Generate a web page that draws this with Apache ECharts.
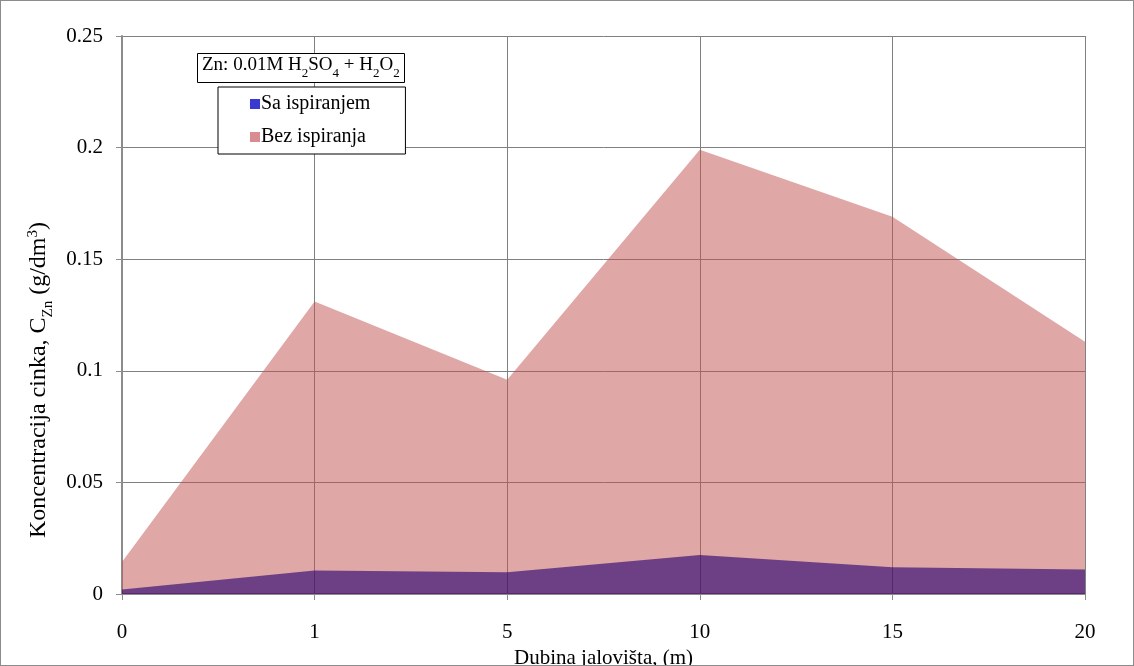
<!DOCTYPE html>
<html>
<head>
<meta charset="utf-8">
<script src="https://cdn.jsdelivr.net/npm/echarts@6/dist/echarts.min.js"></script>
<style>
html,body{margin:0;padding:0;background:#fff;}
#chart{width:1132px;height:664px;border:1px solid #8c8c8c;}
</style>
</head>
<body>
<div id="chart"></div>
<script>
var depths = ['0', '1', '5', '10', '15', '20'];
var saIspiranjem = [0.002, 0.0105, 0.0098, 0.0175, 0.012, 0.011];
var bezIspiranja = [0.0143, 0.131, 0.096, 0.199, 0.169, 0.113];
var yTicks = [0, 0.05, 0.1, 0.15, 0.2, 0.25];

var chart = echarts.init(document.getElementById('chart'));
var serif = '"Liberation Serif", "DejaVu Serif", serif';

var option = {
    textStyle: {fontFamily: serif},
    title: {
        left: 196,
        top: 47,
        padding: [3, 5, 3, 5],
        borderColor: '#000',
        borderWidth: 1,
        backgroundColor: '#fff',
        text: '{a|Zn: 0.01M H}{s|2}{a|SO}{s|4}{a| + H}{s|2}{a|O}{s|2}',
        textStyle: {
            fontWeight: 'normal',
            rich: {
                a: {fontSize: 19, fontFamily: serif, fontWeight: 'normal', color: '#000', lineHeight: 24, verticalAlign: 'bottom'},
                s: {fontSize: 13, fontFamily: serif, fontWeight: 'normal', color: '#000', lineHeight: 24, verticalAlign: 'bottom', padding: [0, 0, -5, 0]}
            }
        }
    },
    legend: {
        data: ['Sa ispiranjem', 'Bez ispiranja'],
        orient: 'vertical',
        left: 217,
        top: 86,
        width: 188,
        padding: [7, 35, 7, 32],
        itemGap: 13,
        itemWidth: 10,
        itemHeight: 10,
        icon: 'rect',
        borderColor: '#000',
        borderWidth: 1,
        backgroundColor: '#fff',
        textStyle: {fontFamily: serif, fontSize: 20, color: '#000', padding: [0, 0, 0, -4]}
    },
    grid: {left: 121, right: 48, top: 35, bottom: 71, outerBoundsMode: 'none'},
    xAxis: {
        type: 'category',
        data: depths,
        boundaryGap: false,
        name: 'Dubina jalovišta, (m)',
        nameLocation: 'middle',
        nameGap: 54,
        nameTextStyle: {fontFamily: serif, fontSize: 21, color: '#000'},
        axisLine: {lineStyle: {color: '#8c8c8c', width: 2}},
        axisTick: {show: true, length: 6, lineStyle: {color: '#8c8c8c'}},
        axisLabel: {fontFamily: serif, fontSize: 21, color: '#000', margin: 28},
        splitLine: {show: true, lineStyle: {color: '#808080', width: 1}}
    },
    yAxis: {
        type: 'value',
        min: yTicks[0],
        max: yTicks[yTicks.length - 1],
        interval: 0.05,
        name: '{a|Koncentracija cinka, C}{s|Zn}{a| (g/dm}{p|3}{a|)}',
        nameLocation: 'middle',
        nameGap: 65,
        nameTextStyle: {
            padding: [0, 130, 0, 0],
            rich: {
                a: {fontSize: 24, fontFamily: serif, color: '#000', lineHeight: 26, verticalAlign: 'bottom'},
                s: {fontSize: 15, fontFamily: serif, color: '#000', lineHeight: 26, verticalAlign: 'bottom', padding: [0, 0, -5, 0]},
                p: {fontSize: 15, fontFamily: serif, color: '#000', lineHeight: 26, verticalAlign: 'top', padding: [1, 0, 0, 0]}
            }
        },
        axisLine: {show: true, lineStyle: {color: '#8c8c8c', width: 2}},
        axisTick: {show: true, length: 6, lineStyle: {color: '#8c8c8c'}},
        axisLabel: {fontFamily: serif, fontSize: 21, color: '#000', margin: 19},
        splitLine: {show: true, lineStyle: {color: '#808080', width: 1}}
    },
    series: [
        {
            name: 'Bez ispiranja',
            type: 'line',
            data: bezIspiranja,
            symbol: 'none',
            lineStyle: {width: 0},
            itemStyle: {color: '#d88c8f'},
            areaStyle: {color: 'rgba(192,80,77,0.5)', opacity: 1}
        },
        {
            name: 'Sa ispiranjem',
            type: 'line',
            data: saIspiranjem,
            symbol: 'none',
            lineStyle: {width: 0},
            itemStyle: {color: '#3a3ad0'},
            areaStyle: {color: 'rgba(41,0,113,0.62)', opacity: 1}
        }
    ]
};
chart.setOption(option);
</script>
</body>
</html>
